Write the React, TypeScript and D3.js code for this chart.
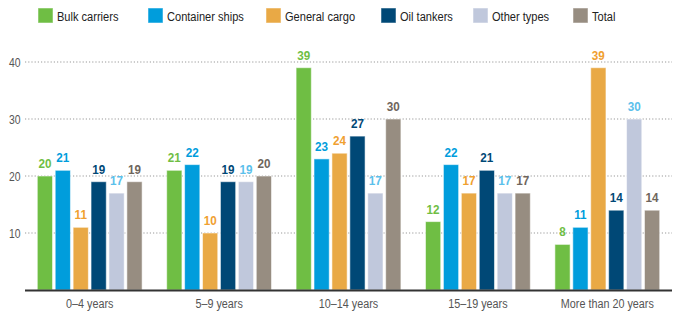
import React from "react";
import * as d3 from "d3";

const categories = ["0–4 years", "5–9 years", "10–14 years", "15–19 years", "More than 20 years"];
const seriesNames = ["Bulk carriers", "Container ships", "General cargo", "Oil tankers", "Other types", "Total"];
const bulkCarriers = [20, 21, 39, 12, 8];
const containerShips = [21, 22, 23, 22, 11];
const generalCargo = [11, 10, 24, 17, 39];
const oilTankers = [19, 19, 27, 21, 14];
const otherTypes = [17, 19, 17, 17, 30];
const total = [19, 20, 30, 17, 14];
const yTicks = [10, 20, 30, 40];

const seriesValues = [bulkCarriers, containerShips, generalCargo, oilTankers, otherTypes, total];
const barColors = ["#6fbe44", "#009ddc", "#e9a945", "#004876", "#c0c8dc", "#978d81"];
const labelColors = ["#6fbe44", "#009ddc", "#f0a030", "#004876", "#5bc0eb", "#6e655c"];
const legendX = [38, 148, 266, 381, 473, 573];

const W = 698, H = 321;
const FONT = "'Liberation Sans', Arial, sans-serif";

function T(props: { x: number; y: number; anchor?: string; size: number; weight?: string; fill: string; sx?: number; children: any }) {
  const sx = props.sx ?? 0.8;
  return (
    <g transform={`translate(${props.x},${props.y}) scale(${sx},1)`}>
      <text x={0} y={0} textAnchor={props.anchor || "start"} fontSize={props.size} fontWeight={props.weight || "normal"} fill={props.fill}>
        {props.children}
      </text>
    </g>
  );
}

export default function App() {
  const x0 = d3.scaleBand<string>().domain(categories).range([25, 672]).paddingInner(0.19).paddingOuter(0.095);
  const x1 = d3.scaleBand<string>().domain(seriesNames).range([0, x0.bandwidth()]).paddingInner(0.15);
  const y = d3.scaleLinear().domain([0, 40]).range([290, 62]);

  return (
    <svg width={W} height={H} style={{ position: "absolute", left: 0, top: 0, background: "#fff" }} fontFamily={FONT}>
      {seriesNames.map((s, i) => (
        <g key={s}>
          <rect x={legendX[i]} y={8} width={15} height={15} fill={barColors[i]} stroke="#fff" strokeOpacity={0.5} />
          <T x={legendX[i] + 19} y={20.5} size={13.5} sx={0.82} fill="#222">{s}</T>
        </g>
      ))}
      {yTicks.map(t => (
        <g key={t}>
          <line x1={25} x2={672} y1={y(t)} y2={y(t)} stroke="#999" strokeWidth={1} strokeDasharray="1.2,2" />
          <T x={20.5} y={y(t) + 4.5} anchor="end" size={13} fill="#555">{t}</T>
        </g>
      ))}
      {categories.map((c, ci) => (
        <g key={c} transform={`translate(${x0(c)},0)`}>
          {seriesNames.map((s, si) => {
            const v = seriesValues[si][ci];
            const bx = x1(s)!;
            return (
              <g key={s}>
                <rect x={bx} y={y(v)} width={x1.bandwidth()} height={y(0) - y(v)} fill={barColors[si]} stroke="#fff" strokeOpacity={0.55} strokeWidth={1} />
                <T x={bx + x1.bandwidth() / 2} y={y(v) - 8} anchor="middle" size={13} sx={0.9} weight="bold" fill={labelColors[si]}>{v}</T>
              </g>
            );
          })}
          <T x={x0.bandwidth() / 2} y={308} anchor="middle" size={13.5} fill="#555">{c}</T>
        </g>
      ))}
      <line x1={25} x2={672} y1={290.5} y2={290.5} stroke="#333" strokeWidth={2} />
    </svg>
  );
}
